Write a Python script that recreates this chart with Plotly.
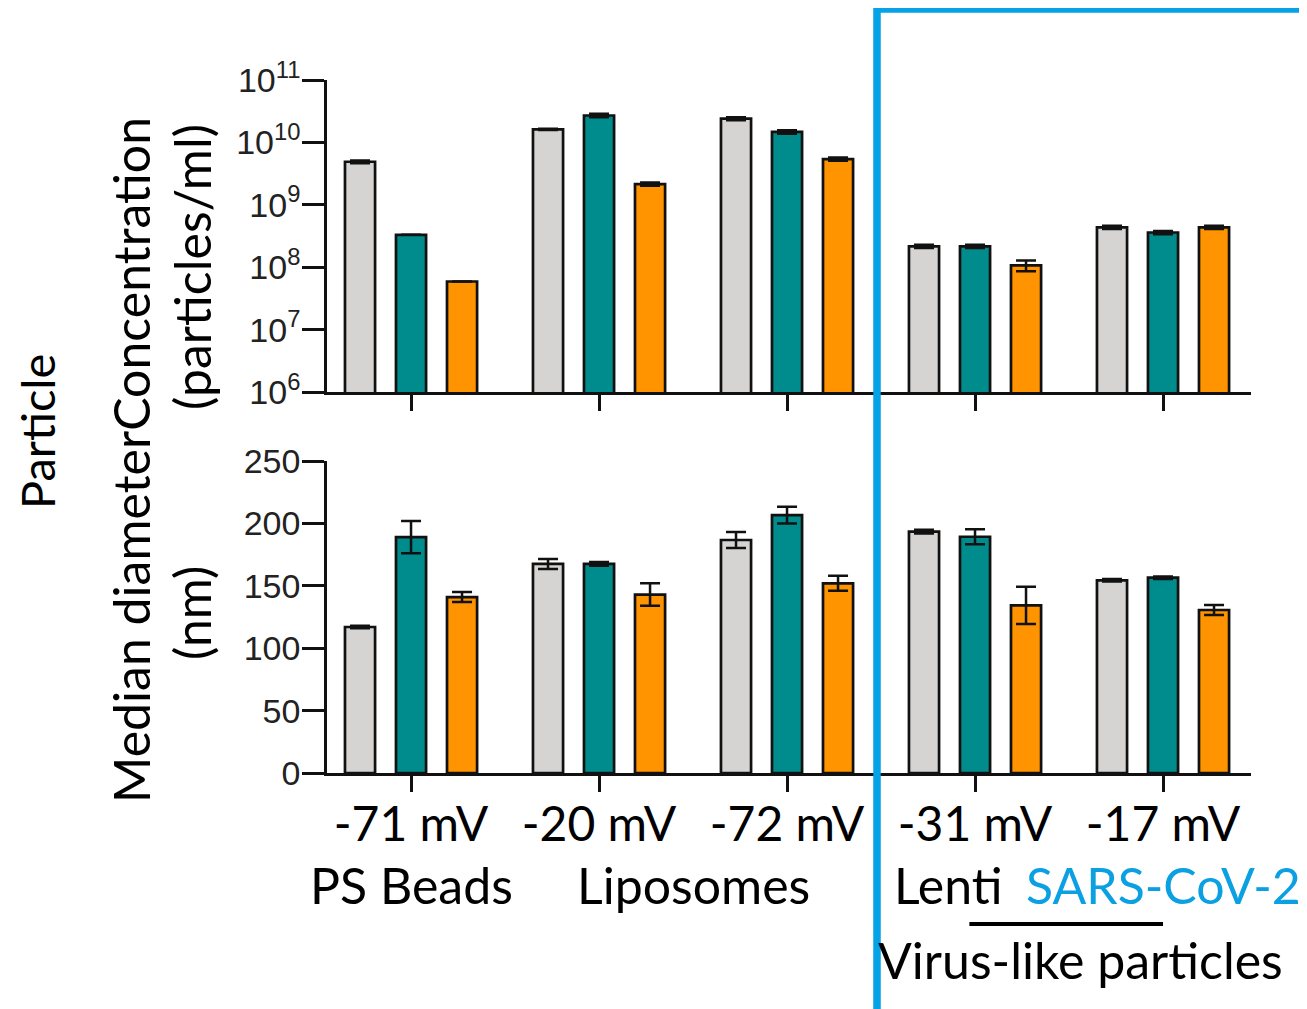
import plotly.graph_objects as go

W, H = 1307, 1009
OFF = 8  # default page body margin

# ---------------- data ----------------
categories = ["-71 mV", "-20 mV", "-72 mV", "-31 mV", "-17 mV"]
series_names = ["Condition 1", "Condition 2", "Condition 3"]
series_colors = ["#d5d4d2", "#008c8c", "#ff9300"]

conc_gray = [4.9e9, 1.62e10, 2.4e10, 2.16e8, 4.36e8]
conc_teal = [3.3e8, 2.7e10, 1.47e10, 2.16e8, 3.6e8]
conc_orange = [5.9e7, 2.15e9, 5.4e9, 1.07e8, 4.36e8]
conc_gray_err = [2.5e8, 0.4e9, 1.3e9, 1.2e7, 2.5e7]
conc_teal_err = [0.0, 1.8e9, 0.9e9, 1.2e7, 2.2e7]
conc_orange_err = [0.0, 1.3e8, 3.3e8, 2.1e7, 2.5e7]

diam_gray = [117, 167.5, 186.7, 193.4, 154.4]
diam_teal = [189, 167.5, 206.7, 189.3, 156.5]
diam_orange = [141, 143, 152, 134.3, 130.6]
diam_gray_err = [1, 4, 6.5, 1.5, 1]
diam_teal_err = [13, 1.5, 6.7, 6, 1]
diam_orange_err = [4, 9, 6, 15, 4]

conc_tickvals = [1e6, 1e7, 1e8, 1e9, 1e10, 1e11]
conc_ticktext = ["10<sup>6</sup>", "10<sup>7</sup>", "10<sup>8</sup>",
                 "10<sup>9</sup>", "10<sup>10</sup>", "10<sup>11</sup>"]
diam_tickvals = [0, 50, 100, 150, 200, 250]

group_labels = ["PS Beads", "Liposomes", "Lenti", "SARS-CoV-2"]
group_label_x = [0.0, 1.5, 2.86, 4.0]
group_label_colors = ["#000000", "#000000", "#000000", "#0aa0e2"]
vlp_label = "Virus-like particles"


def fx(px):
    return (px - OFF) / W


def fy(py):
    return 1 - (py - OFF) / H


fig = go.Figure()

conc = [conc_gray, conc_teal, conc_orange]
conc_err = [conc_gray_err, conc_teal_err, conc_orange_err]
diam = [diam_gray, diam_teal, diam_orange]
diam_err = [diam_gray_err, diam_teal_err, diam_orange_err]

for i in range(3):
    fig.add_trace(go.Bar(
        x=categories, y=conc[i], name=series_names[i], xaxis="x", yaxis="y",
        marker=dict(color=series_colors[i], line=dict(color="#111111", width=2.7)),
        error_y=dict(type="data", array=conc_err[i], visible=True,
                     color="#111111", thickness=2.5, width=10),
        showlegend=False, offsetgroup=str(i)))
    fig.add_trace(go.Bar(
        x=categories, y=diam[i], name=series_names[i], xaxis="x2", yaxis="y2",
        marker=dict(color=series_colors[i], line=dict(color="#111111", width=2.7)),
        error_y=dict(type="data", array=diam_err[i], visible=True,
                     color="#111111", thickness=2.5, width=10),
        showlegend=False, offsetgroup=str(i)))

x_dom = [fx(327), fx(1251)]
axis_common = dict(showline=True, linecolor="#111111", linewidth=2.5,
                   ticks="outside", tickcolor="#111111", tickwidth=2.5,
                   showgrid=False, zeroline=False, automargin=False)
tick_font = dict(family="Liberation Sans, Arial", size=34, color="#222222")

fig.update_layout(
    width=W, height=H,
    margin=dict(l=0, r=0, t=0, b=0, pad=0, autoexpand=False),
    paper_bgcolor="white", plot_bgcolor="white",
    barmode="group", bargap=0.186, bargroupgap=0.41,
    showlegend=False,
    xaxis=dict(domain=x_dom, anchor="y", type="category",
               categoryorder="array", categoryarray=categories,
               range=[-0.447, 4.468], ticklen=16, showticklabels=False,
               **axis_common),
    yaxis=dict(domain=[fy(392), fy(80)], anchor="x", type="log",
               range=[6, 11], tickvals=conc_tickvals, ticktext=conc_ticktext,
               ticklen=22, tickfont=tick_font, ticklabelstandoff=-5,
               **axis_common),
    xaxis2=dict(domain=x_dom, anchor="y2", type="category",
                categoryorder="array", categoryarray=categories,
                range=[-0.447, 4.468], ticklen=16, ticklabelstandoff=-8,
                tickfont=dict(family="Lato", size=48, color="#000000"),
                **axis_common),
    yaxis2=dict(domain=[fy(773), fy(461)], anchor="x2",
                range=[0, 250], tickvals=diam_tickvals,
                ticklen=22, tickfont=tick_font, ticklabelstandoff=-5,
                **axis_common),
)

title_font = dict(family="Lato", size=50, color="#000000")
ann = []
ann.append(dict(text="Particle", x=fx(37), y=fy(432), xref="paper", yref="paper",
                textangle=-90, showarrow=False,
                font=dict(family="Lato", size=47, color="#000000"),
                xanchor="center", yanchor="middle", borderpad=0))
ann.append(dict(text="Median diameterConcentration", x=fx(131), y=fy(460),
                xref="paper", yref="paper", textangle=-90, showarrow=False,
                font=title_font, xanchor="center", yanchor="middle"))
ann.append(dict(text="(particles/ml)", x=fx(192), y=fy(267), xref="paper",
                yref="paper", textangle=-90, showarrow=False, font=title_font,
                xanchor="center", yanchor="middle"))
ann.append(dict(text="(nm)", x=fx(192), y=fy(613), xref="paper", yref="paper",
                textangle=-90, showarrow=False, font=title_font,
                xanchor="center", yanchor="middle"))
for lab, gx, col in zip(group_labels, group_label_x, group_label_colors):
    ann.append(dict(text=lab, x=gx, y=fy(885), xref="x2", yref="paper",
                    showarrow=False, font=dict(family="Lato", size=50, color=col),
                    xanchor="center", yanchor="middle"))
ann.append(dict(text=vlp_label, x=fx(1080), y=fy(960), xref="paper", yref="paper",
                showarrow=False, font=title_font, xanchor="center", yanchor="middle"))
fig.update_layout(annotations=ann)

fig.add_shape(type="line", xref="x2", yref="paper", x0=2.97, x1=4.0,
              y0=fy(924), y1=fy(924), line=dict(color="#000000", width=4))
fig.add_shape(type="rect", xref="paper", yref="paper",
              x0=fx(877), x1=fx(1330), y0=fy(1040), y1=fy(9),
              line=dict(color="#05a3e6", width=7.5), fillcolor="rgba(0,0,0,0)")

fig.write_html("out.html")
